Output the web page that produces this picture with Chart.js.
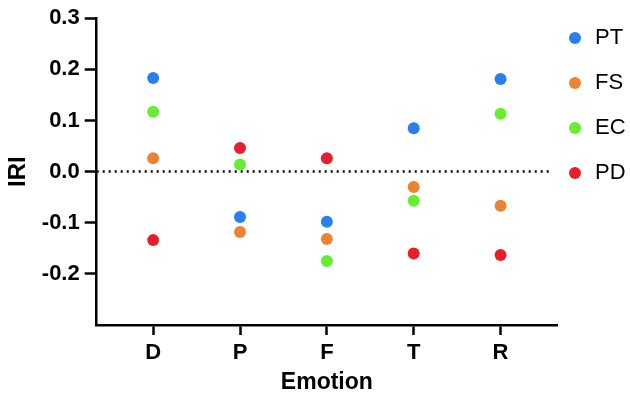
<!DOCTYPE html>
<html lang="en">
<head>
  <meta charset="UTF-8" />
  <title>IRI by Emotion</title>
  <script src="https://cdn.jsdelivr.net/npm/chart.js"></script>
  <style>
    body { margin: 0; background: #fff; }
    #wrap { width: 630px; height: 394px; }
  </style>
</head>
<body>
  <div id="wrap"><canvas id="iriChart"></canvas></div>

  <script>
    const emotions = ['D', 'P', 'F', 'T', 'R'];
    const seriesNames = ['PT', 'FS', 'EC', 'PD'];
    const seriesColors = ['#2a7ff0', '#ec8332', '#66ee33', '#e4212b'];
    const ptValues = [0.183, -0.089, -0.098, 0.085, 0.181];
    const fsValues = [0.026, -0.118, -0.132, -0.030, -0.067];
    const ecValues = [0.117, 0.014, -0.175, -0.057, 0.113];
    const pdValues = [-0.134, 0.046, 0.026, -0.160, -0.163];
    const yTicks = [-0.2, -0.1, 0.0, 0.1, 0.2, 0.3];

    const allValues = [ptValues, fsValues, ecValues, pdValues];
    const family = 'Liberation Sans, Arial, sans-serif';
    const tickFont = { family: family, weight: 'bold', size: 22 };

    const datasets = seriesNames.map((name, i) => ({
      type: 'scatter',
      label: name,
      data: allValues[i].map((v, j) => ({ x: j, y: v })),
      backgroundColor: seriesColors[i],
      borderColor: seriesColors[i],
      pointRadius: 6,
      pointHoverRadius: 6,
      borderWidth: 0,
      order: 1
    }));

    // dotted zero line
    datasets.push({
      type: 'line',
      label: 'zero',
      data: [{ x: -0.65, y: 0 }, { x: 4.6, y: 0 }],
      borderColor: '#000',
      borderWidth: 2.5,
      borderDash: [2, 4],
      pointRadius: 0,
      order: 5
    });

    // legend sits a little over the plot's right margin, like the original
    const legendShift = {
      id: 'legendShift',
      afterLayout(chart) {
        const lg = chart.legend;
        lg.left -= 14;
        lg.right = chart.width;
      }
    };

    new Chart(document.getElementById('iriChart'), {
      type: 'scatter',
      data: { datasets },
      plugins: [legendShift],
      options: {
        responsive: true,
        maintainAspectRatio: false,
        animation: false,
        layout: { padding: { left: 0, top: 4, right: 0, bottom: 0 } },
        plugins: {
          tooltip: { enabled: false },
          legend: {
            position: 'right',
            align: 'start',
            maxWidth: 73,
            labels: {
              filter: item => item.text !== 'zero',
              usePointStyle: true,
              pointStyle: 'circle',
              boxWidth: 18,
              boxHeight: 8.5,
              padding: 23,
              color: '#000',
              font: { family: family, size: 22 }
            }
          }
        },
        scales: {
          x: {
            type: 'linear',
            min: -0.65,
            max: 4.65,
            afterBuildTicks: axis => { axis.ticks = emotions.map((e, i) => ({ value: i })); },
            ticks: {
              callback: v => emotions[v],
              color: '#000',
              font: { family: family, weight: 'bold', size: 22, lineHeight: 1 },
              padding: 7,
              maxRotation: 0
            },
            grid: { drawOnChartArea: false, tickLength: 10, tickWidth: 2.5, tickColor: '#000' },
            border: { display: true, color: '#000', width: 2.5 },
            title: {
              display: true, text: 'Emotion', color: '#000',
              font: { family: family, weight: 'bold', size: 23, lineHeight: 1 },
              padding: { top: 0, bottom: 0 }
            }
          },
          y: {
            min: -0.3,
            max: 0.3,
            afterBuildTicks: axis => { axis.ticks = yTicks.map(v => ({ value: v })); },
            ticks: {
              callback: v => v.toFixed(1),
              color: '#000',
              font: tickFont,
              padding: 5
            },
            grid: { drawOnChartArea: false, tickLength: 12, tickWidth: 2.5, tickColor: '#000' },
            border: { display: true, color: '#000', width: 2.5 },
            title: { display: true, text: 'IRI', color: '#000', font: { family: family, weight: 'bold', size: 24 }, padding: 4 }
          }
        }
      }
    });
  </script>
</body>
</html>
